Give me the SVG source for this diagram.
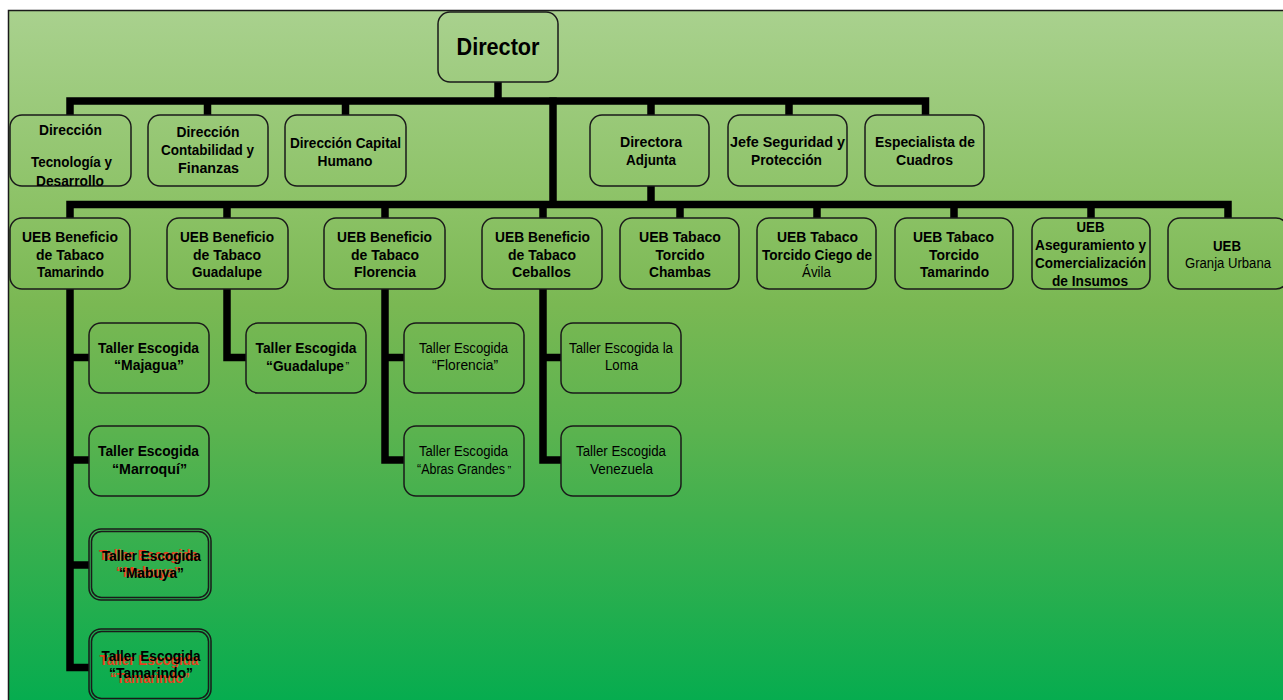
<svg xmlns="http://www.w3.org/2000/svg" width="1283" height="700" viewBox="0 0 1283 700">
<defs>
<linearGradient id="bg" x1="0" y1="0" x2="0" y2="1">
<stop offset="0" stop-color="#a9d18e"/>
<stop offset="0.28" stop-color="#8cc266"/>
<stop offset="0.42" stop-color="#7ab853"/>
<stop offset="0.6" stop-color="#5bb34f"/>
<stop offset="0.72" stop-color="#40b04e"/>
<stop offset="1" stop-color="#03ac4f"/>
</linearGradient>
<style>
.box{fill:none;stroke:#1a1a1a;stroke-width:1.5}
.t{font-family:"Liberation Sans",Arial,sans-serif;font-size:14px;font-weight:bold;text-anchor:middle;fill:#000}
.rg{font-weight:normal}
.st{text-anchor:start}
.q{font-size:11px;font-weight:normal;text-anchor:start}
.red{fill:#e8401c}
.conn{fill:none;stroke:#000;stroke-width:7.5;stroke-linejoin:miter;stroke-linecap:butt}
</style>
</defs>
<rect x="8.5" y="10.5" width="1290" height="700" fill="url(#bg)" stroke="#1a1a1a" stroke-width="1.5"/>

<g id="connectors" class="conn">
<path d="M498 82 V101"/>
<path d="M70 115 V101 H925.5 V115"/>
<path d="M207.5 101 V115 M345.5 101 V115 M651 101 V115 M789 101 V115"/>
<path d="M553 97.5 V204.5"/>
<path d="M651 186 V204.5"/>
<path d="M70 218 V204.5 H1228 V218"/>
<path d="M227 204.5 V218 M385 204.5 V218 M543 204.5 V218 M680 204.5 V218 M817 204.5 V218 M954 204.5 V218 M1091 204.5 V218"/>
<path d="M70 289 V667.5 H89 M70 357.5 H89 M70 460 H89 M70 565 H89"/>
<path d="M227 289 V357.5 H246"/>
<path d="M385 289 V460 H404 M385 357.5 H404"/>
<path d="M543 289 V460 H561 M543 357.5 H561"/>
</g>

<g id="director">
<rect class="box" x="438" y="12" width="120" height="70" rx="12"/>
<text class="t" x="498" y="55" style="font-size:23px" textLength="83" lengthAdjust="spacingAndGlyphs">Director</text>
</g>

<g id="dir-tecnologia">
<rect class="box" x="10" y="115" width="121" height="71" rx="12"/>
<text class="t" x="70.5" y="135" textLength="63" lengthAdjust="spacingAndGlyphs">Dirección</text>
<text class="t" x="71.5" y="167" textLength="81" lengthAdjust="spacingAndGlyphs">Tecnología y</text>
<text class="t" x="70" y="186" textLength="68" lengthAdjust="spacingAndGlyphs">Desarrollo</text>
</g>
<g id="dir-contabilidad">
<rect class="box" x="148" y="115" width="120" height="71" rx="12"/>
<text class="t" x="208" y="137" textLength="63" lengthAdjust="spacingAndGlyphs">Dirección</text>
<text class="t" x="207.5" y="155" textLength="93" lengthAdjust="spacingAndGlyphs">Contabilidad y</text>
<text class="t" x="208.5" y="173" textLength="61" lengthAdjust="spacingAndGlyphs">Finanzas</text>
</g>
<g id="dir-capital">
<rect class="box" x="285" y="115" width="121" height="71" rx="12"/>
<text class="t" x="345.5" y="147.5" textLength="111" lengthAdjust="spacingAndGlyphs">Dirección Capital</text>
<text class="t" x="345" y="165.5" textLength="55" lengthAdjust="spacingAndGlyphs">Humano</text>
</g>
<g id="directora-adjunta">
<rect class="box" x="590" y="115" width="119" height="71" rx="12"/>
<text class="t" x="651" y="147" textLength="62" lengthAdjust="spacingAndGlyphs">Directora</text>
<text class="t" x="651" y="165" textLength="50" lengthAdjust="spacingAndGlyphs">Adjunta</text>
</g>
<g id="jefe-seguridad">
<rect class="box" x="728" y="115" width="119" height="71" rx="12"/>
<text class="t" x="787.5" y="147" textLength="115" lengthAdjust="spacingAndGlyphs">Jefe Seguridad y</text>
<text class="t" x="786.5" y="165" textLength="71" lengthAdjust="spacingAndGlyphs">Protección</text>
</g>
<g id="especialista">
<rect class="box" x="865" y="115" width="119" height="71" rx="12"/>
<text class="t" x="925" y="147" textLength="100" lengthAdjust="spacingAndGlyphs">Especialista de</text>
<text class="t" x="924.5" y="165" textLength="57" lengthAdjust="spacingAndGlyphs">Cuadros</text>
</g>

<g id="ueb-tamarindo">
<rect class="box" x="10" y="218" width="120" height="71" rx="12"/>
<text class="t" x="70" y="241.5" textLength="96" lengthAdjust="spacingAndGlyphs">UEB Beneficio</text>
<text class="t" x="70" y="259.5" textLength="68" lengthAdjust="spacingAndGlyphs">de Tabaco</text>
<text class="t" x="70.5" y="277" textLength="67" lengthAdjust="spacingAndGlyphs">Tamarindo</text>
</g>
<g id="ueb-guadalupe">
<rect class="box" x="167" y="218" width="121" height="71" rx="12"/>
<text class="t" x="227" y="241.5" textLength="94" lengthAdjust="spacingAndGlyphs">UEB Beneficio</text>
<text class="t" x="227" y="259.5" textLength="68" lengthAdjust="spacingAndGlyphs">de Tabaco</text>
<text class="t" x="227" y="277" textLength="70" lengthAdjust="spacingAndGlyphs">Guadalupe</text>
</g>
<g id="ueb-florencia">
<rect class="box" x="324" y="218" width="121" height="71" rx="12"/>
<text class="t" x="384.5" y="241.5" textLength="95" lengthAdjust="spacingAndGlyphs">UEB Beneficio</text>
<text class="t" x="385" y="259.5" textLength="68" lengthAdjust="spacingAndGlyphs">de Tabaco</text>
<text class="t" x="385" y="277" textLength="62" lengthAdjust="spacingAndGlyphs">Florencia</text>
</g>
<g id="ueb-ceballos">
<rect class="box" x="482" y="218" width="120" height="71" rx="12"/>
<text class="t" x="542.5" y="241.5" textLength="95" lengthAdjust="spacingAndGlyphs">UEB Beneficio</text>
<text class="t" x="542" y="259.5" textLength="68" lengthAdjust="spacingAndGlyphs">de Tabaco</text>
<text class="t" x="541.5" y="277" textLength="59" lengthAdjust="spacingAndGlyphs">Ceballos</text>
</g>
<g id="ueb-chambas">
<rect class="box" x="620" y="218" width="119" height="71" rx="12"/>
<text class="t" x="680" y="241.5" textLength="82" lengthAdjust="spacingAndGlyphs">UEB Tabaco</text>
<text class="t" x="680" y="259.5" textLength="49" lengthAdjust="spacingAndGlyphs">Torcido</text>
<text class="t" x="680" y="277" textLength="62" lengthAdjust="spacingAndGlyphs">Chambas</text>
</g>
<g id="ueb-ciego">
<rect class="box" x="757" y="218" width="119" height="71" rx="12"/>
<text class="t" x="817.5" y="241.5" textLength="81" lengthAdjust="spacingAndGlyphs">UEB Tabaco</text>
<text class="t" x="817" y="259.5" textLength="110" lengthAdjust="spacingAndGlyphs">Torcido Ciego de</text>
<text class="t rg" x="816.5" y="277" textLength="29" lengthAdjust="spacingAndGlyphs">Ávila</text>
</g>
<g id="ueb-torcido-tamarindo">
<rect class="box" x="895" y="218" width="118" height="71" rx="12"/>
<text class="t" x="953.5" y="241.5" textLength="81" lengthAdjust="spacingAndGlyphs">UEB Tabaco</text>
<text class="t" x="954" y="259.5" textLength="50" lengthAdjust="spacingAndGlyphs">Torcido</text>
<text class="t" x="954.5" y="277" textLength="69" lengthAdjust="spacingAndGlyphs">Tamarindo</text>
</g>
<g id="ueb-aseguramiento">
<rect class="box" x="1032" y="218" width="118" height="71" rx="12"/>
<text class="t" x="1090.5" y="231.5" textLength="28" lengthAdjust="spacingAndGlyphs">UEB</text>
<text class="t" x="1090.5" y="250" textLength="111" lengthAdjust="spacingAndGlyphs">Aseguramiento y</text>
<text class="t" x="1090.5" y="267.5" textLength="111" lengthAdjust="spacingAndGlyphs">Comercialización</text>
<text class="t" x="1090" y="286" textLength="76" lengthAdjust="spacingAndGlyphs">de Insumos</text>
</g>
<g id="ueb-granja">
<rect class="box" x="1168" y="218" width="120" height="71" rx="12"/>
<text class="t" x="1227" y="250.5" textLength="28" lengthAdjust="spacingAndGlyphs">UEB</text>
<text class="t rg" x="1228" y="267.5" textLength="86" lengthAdjust="spacingAndGlyphs">Granja Urbana</text>
</g>

<g id="taller-majagua">
<rect class="box" x="89" y="323" width="120" height="70" rx="12"/>
<text class="t" x="148.5" y="353" textLength="101" lengthAdjust="spacingAndGlyphs">Taller Escogida</text>
<text class="t" x="149" y="370" textLength="70" lengthAdjust="spacingAndGlyphs">“Majagua”</text>
</g>
<g id="taller-guadalupe">
<rect class="box" x="246" y="323" width="120" height="70" rx="12"/>
<text class="t" x="306" y="353" textLength="101" lengthAdjust="spacingAndGlyphs">Taller Escogida</text>
<text class="t st" x="266" y="370.5" textLength="78" lengthAdjust="spacingAndGlyphs">“Guadalupe</text>
<text class="t q" x="345.5" y="370">”</text>
</g>
<g id="taller-florencia">
<rect class="box" x="404" y="323" width="120" height="70" rx="12"/>
<text class="t rg" x="463.5" y="353" textLength="89" lengthAdjust="spacingAndGlyphs">Taller Escogida</text>
<text class="t rg" x="465" y="370" textLength="66" lengthAdjust="spacingAndGlyphs">“Florencia”</text>
</g>
<g id="taller-loma">
<rect class="box" x="561" y="323" width="120" height="70" rx="12"/>
<text class="t rg" x="621" y="353" textLength="104" lengthAdjust="spacingAndGlyphs">Taller Escogida la</text>
<text class="t rg" x="621.5" y="370" textLength="33" lengthAdjust="spacingAndGlyphs">Loma</text>
</g>
<g id="taller-marroqui">
<rect class="box" x="89" y="426" width="120" height="70" rx="12"/>
<text class="t" x="148.5" y="456" textLength="101" lengthAdjust="spacingAndGlyphs">Taller Escogida</text>
<text class="t" x="149.5" y="474" textLength="75" lengthAdjust="spacingAndGlyphs">“Marroquí”</text>
</g>
<g id="taller-abras">
<rect class="box" x="404" y="426" width="120" height="70" rx="12"/>
<text class="t rg" x="463.5" y="456" textLength="89" lengthAdjust="spacingAndGlyphs">Taller Escogida</text>
<text class="t rg st" x="417" y="474" textLength="88" lengthAdjust="spacingAndGlyphs">“Abras Grandes</text>
<text class="t q" x="507.5" y="473.5">”</text>
</g>
<g id="taller-venezuela">
<rect class="box" x="561" y="426" width="120" height="70" rx="12"/>
<text class="t rg" x="621" y="456" textLength="90" lengthAdjust="spacingAndGlyphs">Taller Escogida</text>
<text class="t rg" x="621.5" y="474" textLength="63" lengthAdjust="spacingAndGlyphs">Venezuela</text>
</g>
<g id="taller-mabuya">
<rect class="box" x="89" y="529" width="122" height="71" rx="12"/>
<rect class="box" x="91.5" y="531.5" width="117" height="66" rx="10"/>
<text class="t red" x="148.5" y="560" textLength="99" lengthAdjust="spacingAndGlyphs">Taller Escogida</text>
<text class="t red" x="148.5" y="577" textLength="65" lengthAdjust="spacingAndGlyphs">“Mabuya”</text>
<text class="t" x="151.5" y="561" textLength="99" lengthAdjust="spacingAndGlyphs">Taller Escogida</text>
<text class="t" x="151.5" y="578" textLength="65" lengthAdjust="spacingAndGlyphs">“Mabuya”</text>
</g>
<g id="taller-tamarindo">
<rect class="box" x="89" y="629" width="122" height="72" rx="12"/>
<rect class="box" x="91.5" y="631.5" width="117" height="67" rx="10"/>
<text class="t red" x="149" y="665" textLength="99" lengthAdjust="spacingAndGlyphs">Taller Escogida</text>
<text class="t red" x="150" y="683" textLength="80" lengthAdjust="spacingAndGlyphs">“Tamarindo”</text>
<text class="t" x="151" y="661" textLength="99" lengthAdjust="spacingAndGlyphs">Taller Escogida</text>
<text class="t" x="151" y="678" textLength="84" lengthAdjust="spacingAndGlyphs">“Tamarindo”</text>
</g>
</svg>
